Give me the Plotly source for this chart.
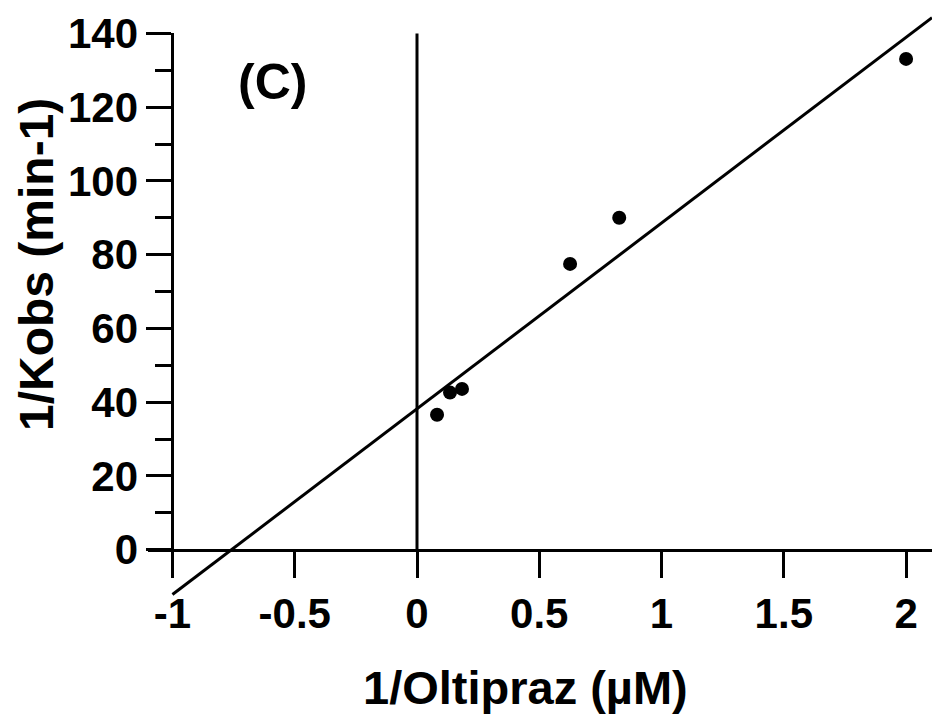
import numpy as np
import plotly.graph_objects as go

# ---- data ----
inv_oltipraz = [0.082, 0.135, 0.184, 0.626, 0.827, 2.0]
inv_kobs = [36.6, 42.6, 43.6, 77.5, 90.0, 133.1]
fit_x_range = [-1.0, 2.106]

x_ticks = [-1, -0.5, 0, 0.5, 1, 1.5, 2]
x_tick_text = ["-1", "-0.5", "0", "0.5", "1", "1.5", "2"]
y_ticks = [0, 20, 40, 60, 80, 100, 120, 140]
y_minor = [10, 30, 50, 70, 90, 110, 130]

x_range = [-1.1, 2.106]
y_range = [-15, 145]

slope, intercept = np.polyfit(inv_oltipraz, inv_kobs, 1)
fit_x = np.array(fit_x_range)
fit_y = slope * fit_x + intercept

FONT = "Liberation Sans, Arial, sans-serif"

fig = go.Figure()
# invisible trace to host the display y axis (added first so it sits below)
fig.add_trace(go.Scatter(x=[None], y=[None], xaxis="x", yaxis="y2",
                         showlegend=False, hoverinfo="skip"))
fig.add_trace(go.Scatter(x=fit_x, y=fit_y, mode="lines",
                         line=dict(color="black", width=3),
                         showlegend=False, hoverinfo="skip"))
fig.add_trace(go.Scatter(x=inv_oltipraz, y=inv_kobs, mode="markers",
                         marker=dict(color="black", size=14, symbol="circle"),
                         showlegend=False))

# vertical line at x = 0 (from y=0 to top of y axis)
fig.add_shape(type="line", xref="x", yref="y", x0=0, x1=0, y0=0, y1=y_ticks[-1],
              line=dict(color="black", width=3))

span = y_range[1] - y_range[0]
x_axis_pos = (0 - y_range[0]) / span
y_axis_pos = (-1 - x_range[0]) / (x_range[1] - x_range[0])

fig.update_layout(
    width=934, height=716,
    margin=dict(l=148, r=2, t=15, b=111, autoexpand=False),
    paper_bgcolor="white", plot_bgcolor="rgba(0,0,0,0)",
    xaxis=dict(range=x_range, anchor="free", position=x_axis_pos,
               automargin=False,
               showline=True, linecolor="black", linewidth=3,
               ticks="outside", ticklen=26, tickwidth=3, tickcolor="black",
               tickvals=x_ticks, ticktext=x_tick_text,
               tickfont=dict(family=FONT, size=42, color="black", weight="bold"),
               showgrid=False, zeroline=False),
    yaxis=dict(range=y_range, visible=False, showgrid=False, zeroline=False,
               automargin=False),
    yaxis2=dict(range=[0, y_ticks[-1]],
                domain=[(0 - y_range[0]) / span, (y_ticks[-1] - y_range[0]) / span],
                anchor="free", position=y_axis_pos, automargin=False,
                showline=True, linecolor="black", linewidth=3,
                ticks="outside", ticklen=25, tickwidth=3, tickcolor="black",
                tickvals=y_ticks,
                minor=dict(tickvals=y_minor, ticks="outside", ticklen=16,
                           tickwidth=3, tickcolor="black"),
                tickfont=dict(family=FONT, size=42, color="black", weight="bold"),
                showgrid=False, zeroline=False),
    annotations=[
        dict(text="1/Oltipraz (µM)", xref="paper", yref="paper",
             x=(525 - 148) / 784, y=(605 - 688) / 590,
             xanchor="center", yanchor="middle", showarrow=False,
             font=dict(family=FONT, size=47, color="black", weight="bold")),
        dict(text="1/Kobs (min-1)", xref="paper", yref="paper",
             x=(36 - 148) / 784, y=(605 - 265) / 590, textangle=-90,
             xanchor="center", yanchor="middle", showarrow=False,
             font=dict(family=FONT, size=48, color="black", weight="bold")),
        dict(text="(C)", xref="x", yref="y", x=-0.589, y=126.9,
             xanchor="center", yanchor="middle", showarrow=False,
             font=dict(family=FONT, size=50, color="black", weight="bold")),
    ],
)

fig.write_html("out.html")
